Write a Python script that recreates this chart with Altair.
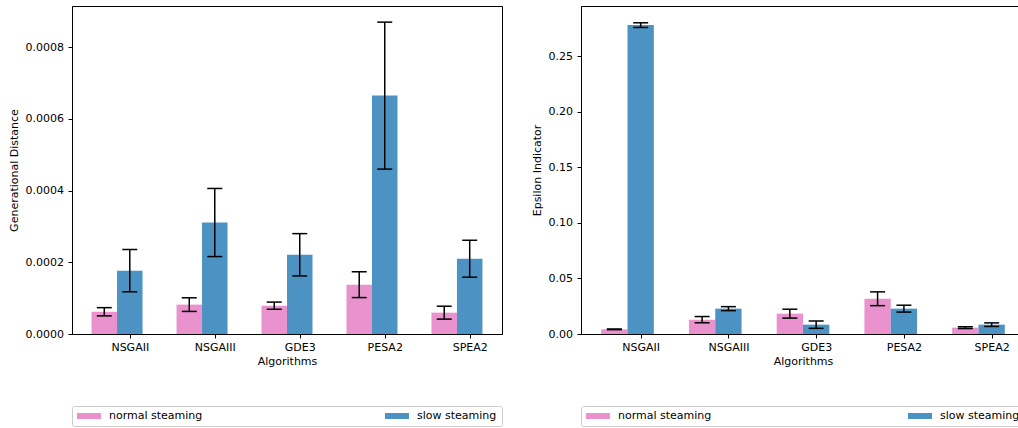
import json

import altair as alt
import pandas as pd

# Algorithms compared and the two speed regimes
algorithms = ["NSGAII", "NSGAIII", "GDE3", "PESA2", "SPEA2"]
series = ["normal steaming", "slow steaming"]
colors = ["#e992ce", "#4c92c3"]

# Generational distance: mean and standard deviation per algorithm
gd_normal = [6.2e-5, 8.2e-5, 7.9e-5, 1.376e-4, 5.95e-5]
gd_normal_err = [1.15e-5, 1.9e-5, 1.0e-5, 3.6e-5, 1.8e-5]
gd_slow = [1.767e-4, 3.11e-4, 2.21e-4, 6.65e-4, 2.10e-4]
gd_slow_err = [5.9e-5, 9.5e-5, 5.9e-5, 2.05e-4, 5.15e-5]

# Epsilon indicator: mean and standard deviation per algorithm
eps_normal = [0.0042, 0.0129, 0.0183, 0.0317, 0.0057]
eps_normal_err = [0.0003, 0.0028, 0.0040, 0.0062, 0.0008]
eps_slow = [0.2778, 0.0228, 0.0084, 0.0228, 0.0084]
eps_slow_err = [0.0021, 0.0018, 0.0033, 0.0031, 0.0016]

BAR_W = 0.3
FONT = "DejaVu Sans"


def build_frame(normal, normal_err, slow, slow_err):
    rows = []
    for j, (vals, errs) in enumerate([(normal, normal_err), (slow, slow_err)]):
        for i, (v, e) in enumerate(zip(vals, errs)):
            pos = i + (j - 1) * BAR_W
            rows.append({
                "algorithm": algorithms[i],
                "series": series[j],
                "pos": pos,
                "x0": pos - BAR_W / 2,
                "x1": pos + BAR_W / 2,
                "base": 0.0,
                "value": v,
                "lo": v - e,
                "hi": v + e,
            })
    return pd.DataFrame(rows)


label_expr = json.dumps(algorithms) + "[datum.value]"


def panel(df, ytitle, yfmt, ytop, yticks, width, col_pad):
    x_scale = alt.Scale(domain=[-0.68, 4.38], nice=False, zero=False)
    y_scale = alt.Scale(domain=[0, ytop], nice=False)
    legend = alt.Legend(
        title=None,
        orient="none",
        legendX=0,
        legendY=400,
        direction="horizontal",
        symbolType="M-1,-0.25H1V0.25H-1Z",
        symbolSize=576,
        symbolStrokeWidth=0,
        symbolOpacity=1,
        clipHeight=10,
        labelOffset=8,
        columnPadding=col_pad,
        labelFont=FONT,
        labelFontSize=11,
        labelColor="black",
        padding=5,
        strokeColor="#cccccc",
        fillColor="white",
        cornerRadius=2,
    )
    bars = alt.Chart(df).mark_bar(opacity=1).encode(
        x=alt.X(
            "x0:Q",
            scale=x_scale,
            axis=alt.Axis(values=[0, 1, 2, 3, 4], labelExpr=label_expr,
                          title="Algorithms"),
        ),
        x2="x1:Q",
        y=alt.Y("value:Q", scale=y_scale,
                axis=alt.Axis(values=yticks, format=yfmt, title=ytitle)),
        y2="base:Q",
        color=alt.Color("series:N", scale=alt.Scale(domain=series, range=colors),
                        legend=legend),
    )
    whiskers = alt.Chart(df).mark_rule(color="black", strokeWidth=1.5).encode(
        x="pos:Q", y="lo:Q", y2="hi:Q"
    )
    cap_hi = alt.Chart(df).mark_tick(
        color="black", orient="horizontal", size=15, thickness=1.5, opacity=1
    ).encode(x="pos:Q", y="hi:Q")
    cap_lo = alt.Chart(df).mark_tick(
        color="black", orient="horizontal", size=15, thickness=1.5, opacity=1
    ).encode(x="pos:Q", y="lo:Q")
    return alt.layer(bars, whiskers, cap_hi, cap_lo).properties(width=width, height=328)


gd_df = build_frame(gd_normal, gd_normal_err, gd_slow, gd_slow_err)
eps_df = build_frame(eps_normal, eps_normal_err, eps_slow, eps_slow_err)

left = panel(gd_df, "Generational Distance", ".4f", 0.000915,
             [0, 0.0002, 0.0004, 0.0006, 0.0008], 430, 182)
right = panel(eps_df, "Epsilon Indicator", ".2f", 0.295,
              [0, 0.05, 0.10, 0.15, 0.20, 0.25], 444, 196)

# The figure is a fixed 1018x428 canvas; the right panel runs past its edge.
chart = (
    alt.hconcat(left, right, spacing=28)
    .resolve_scale(color="independent")
    .resolve_legend(color="independent")
    .properties(
        autosize=alt.AutoSizeParams(type="none"),
        padding={"left": 72, "top": 6, "right": 946, "bottom": 422},
    )
    .configure(font=FONT)
    .configure_view(stroke="black", strokeWidth=1)
    .configure_axis(
        grid=False,
        domainColor="black",
        domainWidth=1,
        tickColor="black",
        tickSize=4,
        tickWidth=1,
        labelFont=FONT,
        labelFontSize=11,
        labelColor="black",
        titleFont=FONT,
        titleFontSize=11,
        titleFontWeight="normal",
        titleColor="black",
    )
    .configure_axisY(labelPadding=4.5, titlePadding=5.5)
    .configure_axisX(labelPadding=3, titlePadding=3)
)

chart.save("out.html", embed_options={"renderer": "svg", "actions": False})
